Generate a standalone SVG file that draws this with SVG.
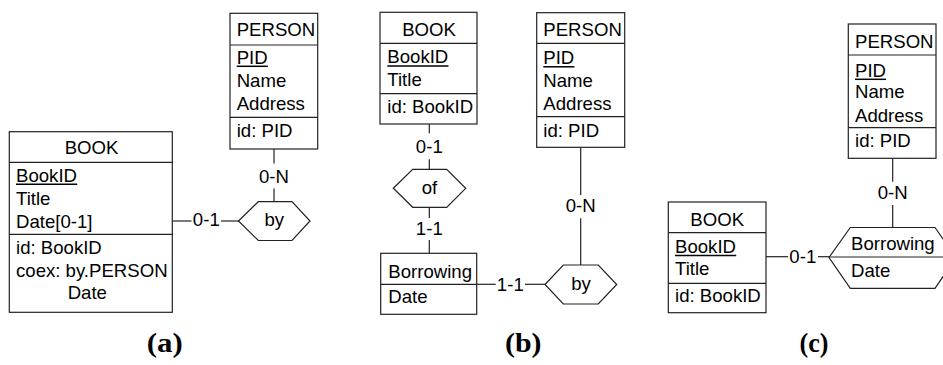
<svg xmlns="http://www.w3.org/2000/svg" width="943" height="365" viewBox="0 0 943 365">
  <style>
    .box { fill: #fff; stroke: #222; stroke-width: 1.2; }
    .sep { stroke: #222; stroke-width: 1.2; fill: none; }
    .ul { stroke: #000; stroke-width: 1.5; }
    .conn line { stroke: #222; stroke-width: 1.2; }
    text { font-family: "Liberation Sans", Arial, sans-serif; font-size: 18.6px; fill: #000; }
    .c { text-anchor: middle; }
    .cap { font-family: "Liberation Serif", "Times New Roman", serif; font-size: 27px; font-weight: bold; text-anchor: middle; }
  </style>
  <rect width="943" height="365" fill="#fff"/>

  <!-- connectors -->
  <g id="connectors" class="conn">
    <!-- (a) -->
    <line x1="274" y1="149" x2="274" y2="163.5"/>
    <line x1="274" y1="188.5" x2="274" y2="201.7"/>
    <line x1="172.3" y1="221" x2="191.5" y2="221"/>
    <line x1="221" y1="221" x2="239" y2="221"/>
    <!-- (b) -->
    <line x1="429.3" y1="124" x2="429.3" y2="133.3"/>
    <line x1="429.3" y1="159.3" x2="429.3" y2="169.3"/>
    <line x1="429.3" y1="207.3" x2="429.3" y2="218"/>
    <line x1="429.3" y1="240" x2="429.3" y2="253.3"/>
    <line x1="580.7" y1="147.3" x2="580.7" y2="195"/>
    <line x1="580.7" y1="218.3" x2="580.7" y2="265"/>
    <line x1="476.7" y1="284.3" x2="495.7" y2="284.3"/>
    <line x1="525" y1="284.3" x2="545" y2="284.3"/>
    <!-- (c) -->
    <line x1="892.7" y1="158.3" x2="892.7" y2="181.7"/>
    <line x1="892.7" y1="205" x2="892.7" y2="227.5"/>
    <line x1="766" y1="256.7" x2="788" y2="256.7"/>
    <line x1="818" y1="256.7" x2="829" y2="256.7"/>
  </g>

  <!-- connector cardinalities -->
  <g id="cardinalities">
    <text class="c" x="274" y="182.7">0-N</text>
    <text class="c" x="206.3" y="226">0-1</text>
    <text class="c" x="429.3" y="152.7">0-1</text>
    <text class="c" x="429.3" y="235">1-1</text>
    <text class="c" x="580.7" y="212.3">0-N</text>
    <text class="c" x="510.3" y="290.8">1-1</text>
    <text class="c" x="892.7" y="199">0-N</text>
    <text class="c" x="802.8" y="263.3">0-1</text>
  </g>

  <!-- (a) BOOK -->
  <g id="a-book">
    <rect class="box" x="9.3" y="131.7" width="163" height="180.6"/>
    <line class="sep" x1="9.3" y1="162.3" x2="172.3" y2="162.3"/>
    <line class="sep" x1="9.3" y1="234.3" x2="172.3" y2="234.3"/>
    <text class="c" x="91.5" y="154">BOOK</text>
    <text x="16" y="181.7">BookID</text>
    <line class="ul" x1="16" y1="184.3" x2="77.2" y2="184.3"/>
    <text x="16" y="204.5">Title</text>
    <text x="16" y="227.5">Date[0-1]</text>
    <text x="16" y="254">id: BookID</text>
    <text x="16" y="276.7">coex: by.PERSON</text>
    <text x="67.7" y="299">Date</text>
  </g>

  <!-- (a) PERSON -->
  <g id="a-person">
    <rect class="box" x="230" y="13.3" width="87.7" height="135.7"/>
    <line class="sep" x1="230" y1="45" x2="317.7" y2="45"/>
    <line class="sep" x1="230" y1="117.3" x2="317.7" y2="117.3"/>
    <text x="236.7" y="36">PERSON</text>
    <text x="236.7" y="63.5">PID</text>
    <line class="ul" x1="236.7" y1="66.3" x2="267.8" y2="66.3"/>
    <text x="236.7" y="87">Name</text>
    <text x="236.7" y="110">Address</text>
    <text x="236.7" y="137">id: PID</text>
  </g>

  <!-- (a) by -->
  <g id="a-by">
    <polygon class="box" points="238.5,221 258.3,201.7 292,201.7 310,221 292,240.5 258.3,240.5"/>
    <text class="c" x="274.3" y="226">by</text>
  </g>

  <!-- (b) BOOK -->
  <g id="b-book">
    <rect class="box" x="380" y="12.3" width="97" height="111.7"/>
    <line class="sep" x1="380" y1="43.3" x2="477" y2="43.3"/>
    <line class="sep" x1="380" y1="93.7" x2="477" y2="93.7"/>
    <text class="c" x="429" y="36">BOOK</text>
    <text x="387.3" y="63.3">BookID</text>
    <line class="ul" x1="387.3" y1="66" x2="448.5" y2="66"/>
    <text x="387.3" y="85.7">Title</text>
    <text x="387.3" y="112.7">id: BookID</text>
  </g>

  <!-- (b) of -->
  <g id="b-of">
    <polygon class="box" points="393.3,188.3 412.7,169.3 446.7,169.3 465.7,188.3 446.7,207.3 412.7,207.3"/>
    <text class="c" x="429.5" y="193.5">of</text>
  </g>

  <!-- (b) Borrowing -->
  <g id="b-borrowing">
    <rect class="box" x="380.7" y="253.3" width="96" height="61"/>
    <line class="sep" x1="380.7" y1="284.3" x2="476.7" y2="284.3"/>
    <text x="388.3" y="277.5">Borrowing</text>
    <text x="388.3" y="303.3">Date</text>
  </g>

  <!-- (b) PERSON -->
  <g id="b-person">
    <rect class="box" x="536.7" y="12.7" width="88" height="134.6"/>
    <line class="sep" x1="536.7" y1="43.3" x2="624.7" y2="43.3"/>
    <line class="sep" x1="536.7" y1="116.7" x2="624.7" y2="116.7"/>
    <text x="543.3" y="36">PERSON</text>
    <text x="543.3" y="64">PID</text>
    <line class="ul" x1="543.3" y1="66.8" x2="574.4" y2="66.8"/>
    <text x="543.3" y="87.3">Name</text>
    <text x="543.3" y="110">Address</text>
    <text x="543.3" y="136.7">id: PID</text>
  </g>

  <!-- (b) by -->
  <g id="b-by">
    <polygon class="box" points="545,284.5 563.3,265 598.3,265 616.7,284.5 598.3,304 563.3,304"/>
    <text class="c" x="581" y="290">by</text>
  </g>

  <!-- (c) BOOK -->
  <g id="c-book">
    <rect class="box" x="668.3" y="202" width="97.7" height="110.7"/>
    <line class="sep" x1="668.3" y1="232.7" x2="766" y2="232.7"/>
    <line class="sep" x1="668.3" y1="283.3" x2="766" y2="283.3"/>
    <text class="c" x="717.2" y="226">BOOK</text>
    <text x="675" y="252.7">BookID</text>
    <line class="ul" x1="675" y1="255.4" x2="736.2" y2="255.4"/>
    <text x="675" y="275">Title</text>
    <text x="675" y="301.7">id: BookID</text>
  </g>

  <!-- (c) PERSON -->
  <g id="c-person">
    <rect class="box" x="848.3" y="24" width="87.7" height="134.3"/>
    <line class="sep" x1="848.3" y1="55" x2="936" y2="55"/>
    <line class="sep" x1="848.3" y1="127.7" x2="936" y2="127.7"/>
    <text x="855" y="48.3">PERSON</text>
    <text x="855" y="76.5">PID</text>
    <line class="ul" x1="855" y1="79.3" x2="886.1" y2="79.3"/>
    <text x="855" y="98.3">Name</text>
    <text x="855" y="121.5">Address</text>
    <text x="855" y="147.3">id: PID</text>
  </g>

  <!-- (c) Borrowing relationship with attribute -->
  <g id="c-borrowing">
    <polygon class="box" points="829,257.5 850.3,227.5 935,227.5 956,257.5 935,288.3 850.3,288.3"/>
    <line class="sep" x1="829" y1="257" x2="943" y2="257"/>
    <text x="851" y="250">Borrowing</text>
    <text x="851" y="276.7">Date</text>
  </g>

  <!-- panel captions -->
  <g id="captions">
    <text class="cap" x="164.7" y="352" textLength="36" lengthAdjust="spacingAndGlyphs">(a)</text>
    <text class="cap" x="523.3" y="352" textLength="36.5" lengthAdjust="spacingAndGlyphs">(b)</text>
    <text class="cap" x="814" y="352" textLength="29" lengthAdjust="spacingAndGlyphs">(c)</text>
  </g>
</svg>
